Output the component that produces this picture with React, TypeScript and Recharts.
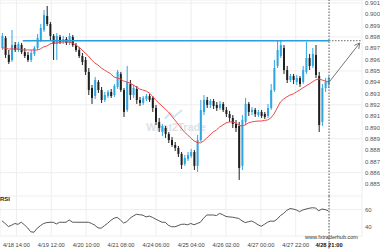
import React from 'react';
import { ComposedChart, Bar, Line, XAxis, YAxis, CartesianGrid, ReferenceLine } from 'recharts';

// 2h candles, 4/18 08:00 -> 4/28 20:00 (weekend skipped)
const openP = [
  0.89703, 0.89791, 0.89641, 0.89597, 0.89729, 0.89685, 0.89729, 0.89667, 0.89641, 0.89597,
  0.8965, 0.89703, 0.89773, 0.89862, 0.89986, 0.89915, 0.89809, 0.89738, 0.898, 0.89756,
  0.89782, 0.89747, 0.898, 0.89729, 0.89685, 0.89632, 0.89597, 0.89491, 0.89349, 0.89278,
  0.89402, 0.89331, 0.89243, 0.89278, 0.89314, 0.89287, 0.89358, 0.89473, 0.89331, 0.89155,
  0.89384, 0.89287, 0.8934, 0.89243, 0.89216, 0.89252, 0.89278, 0.89261, 0.89172, 0.89049,
  0.8896, 0.88995, 0.88942, 0.88889, 0.88845, 0.88819, 0.88766, 0.88677, 0.88721, 0.88748,
  0.88783, 0.8866, 0.88889, 0.89137, 0.89243, 0.89199, 0.89234, 0.89199, 0.89172, 0.89208,
  0.89155, 0.89119, 0.89084, 0.89031, 0.89013, 0.8866, 0.89049, 0.89208, 0.89137, 0.89155,
  0.8911, 0.89137, 0.89119, 0.89102, 0.89172, 0.89331, 0.89544, 0.89632, 0.89703, 0.89508,
  0.8942, 0.89455, 0.89402, 0.89437, 0.89402, 0.89491, 0.89614, 0.89544, 0.89641, 0.89455,
  0.89049, 0.89349, 0.89384,
];
const highP = [
  0.89835, 0.89809, 0.89685, 0.89862, 0.89756, 0.89756, 0.89747, 0.89703, 0.89667, 0.89685,
  0.8972, 0.89826, 0.89915, 0.90039, 0.90074, 0.89933, 0.89826, 0.89835, 0.89818, 0.89809,
  0.898, 0.89835, 0.89818, 0.89747, 0.89712, 0.89658, 0.89623, 0.89526, 0.89376, 0.89446,
  0.8942, 0.89358, 0.89314, 0.89331, 0.8934, 0.89384, 0.89508, 0.89491, 0.89349, 0.89544,
  0.8942, 0.89376, 0.89367, 0.8927, 0.89278, 0.89296, 0.89296, 0.89278, 0.89199, 0.89084,
  0.89031, 0.89013, 0.8896, 0.88916, 0.88872, 0.88836, 0.88783, 0.88757, 0.88783, 0.8881,
  0.88801, 0.88934, 0.89243, 0.89287, 0.8927, 0.89252, 0.89252, 0.89225, 0.89234, 0.89225,
  0.89181, 0.89146, 0.8911, 0.89066, 0.89049, 0.8911, 0.89261, 0.89225, 0.89181, 0.89172,
  0.89155, 0.89155, 0.89137, 0.89208, 0.89384, 0.89597, 0.89765, 0.89765, 0.89729, 0.89544,
  0.89473, 0.89473, 0.89464, 0.89455, 0.89544, 0.89756, 0.8965, 0.89703, 0.89729, 0.89491,
  0.89384, 0.89437, 0.89455,
];
const lowP = [
  0.89685, 0.89614, 0.89561, 0.89579, 0.89667, 0.89667, 0.8965, 0.89614, 0.89579, 0.89579,
  0.89632, 0.89685, 0.89756, 0.89844, 0.89897, 0.89773, 0.89597, 0.89597, 0.89738, 0.89738,
  0.89729, 0.89729, 0.89712, 0.89667, 0.89614, 0.89552, 0.89464, 0.89287, 0.89208, 0.89252,
  0.89305, 0.89216, 0.89225, 0.89261, 0.89261, 0.8927, 0.8934, 0.89314, 0.89093, 0.89137,
  0.89243, 0.89261, 0.89208, 0.8919, 0.89199, 0.89234, 0.89225, 0.89137, 0.89022, 0.8896,
  0.88925, 0.88907, 0.88863, 0.88828, 0.88792, 0.88739, 0.88633, 0.8866, 0.88704, 0.8873,
  0.88624, 0.88607, 0.88872, 0.8911, 0.89172, 0.89172, 0.89163, 0.89146, 0.89155, 0.89137,
  0.89093, 0.89049, 0.88995, 0.8896, 0.88536, 0.88624, 0.89022, 0.89102, 0.8911, 0.89093,
  0.89093, 0.89084, 0.89075, 0.89084, 0.89155, 0.89314, 0.89526, 0.89614, 0.89473, 0.89393,
  0.89402, 0.89384, 0.89376, 0.89358, 0.89384, 0.89473, 0.89508, 0.89526, 0.89437, 0.8896,
  0.89013, 0.89314, 0.89349,
];
const closeP = [
  0.89809, 0.89641, 0.89579, 0.89729, 0.89685, 0.89738, 0.89667, 0.89632, 0.89597, 0.89658,
  0.89703, 0.89791, 0.89879, 0.89994, 0.89915, 0.89809, 0.89738, 0.89809, 0.89756, 0.89782,
  0.89747, 0.89809, 0.89729, 0.89685, 0.89632, 0.89579, 0.89491, 0.89331, 0.89261, 0.8942,
  0.89331, 0.89243, 0.89287, 0.89314, 0.89278, 0.89367, 0.89491, 0.89331, 0.89137, 0.89402,
  0.89287, 0.89349, 0.89243, 0.89216, 0.89261, 0.89278, 0.89243, 0.89172, 0.89049, 0.88995,
  0.89013, 0.88942, 0.88889, 0.88845, 0.88819, 0.88766, 0.88668, 0.8873, 0.88757, 0.88783,
  0.8866, 0.88889, 0.89155, 0.89243, 0.89199, 0.89234, 0.8919, 0.89172, 0.89208, 0.89155,
  0.89119, 0.89084, 0.89031, 0.88995, 0.88642, 0.89066, 0.89208, 0.89137, 0.89155, 0.89119,
  0.89137, 0.89102, 0.89093, 0.89172, 0.89331, 0.89526, 0.89685, 0.89729, 0.89508, 0.8942,
  0.89455, 0.8942, 0.89437, 0.89384, 0.89508, 0.89614, 0.89544, 0.8965, 0.89464, 0.89022,
  0.89349, 0.89402, 0.89437,
];
const maP = [
  0.89703, 0.89703, 0.89694, 0.89694, 0.89694, 0.89694, 0.89689, 0.89685, 0.89685, 0.89685,
  0.89685, 0.89685, 0.89694, 0.89712, 0.8972, 0.89738, 0.89747, 0.89747, 0.89751, 0.89756,
  0.89756, 0.89756, 0.89747, 0.89729, 0.89712, 0.89685, 0.89658, 0.89632, 0.89597, 0.8957,
  0.89552, 0.89526, 0.89508, 0.89491, 0.89473, 0.89446, 0.89437, 0.89429, 0.89411, 0.89402,
  0.89393, 0.89376, 0.89358, 0.8934, 0.89331, 0.89323, 0.89305, 0.89278, 0.89243, 0.89216,
  0.8919, 0.89163, 0.89137, 0.89102, 0.89066, 0.89031, 0.88995, 0.8896, 0.88934, 0.88907,
  0.88881, 0.88867, 0.88863, 0.88881, 0.88907, 0.88934, 0.8896, 0.88978, 0.89004, 0.89022,
  0.8904, 0.89049, 0.89049, 0.8904, 0.89022, 0.89013, 0.89022, 0.8904, 0.89049, 0.89053,
  0.89057, 0.89057, 0.89062, 0.89066, 0.89084, 0.89119, 0.89172, 0.89225, 0.89252, 0.8927,
  0.89287, 0.89296, 0.89314, 0.89331, 0.89349, 0.89367, 0.89384, 0.89402, 0.8942, 0.89429,
  0.8942, 0.89411, 0.89402,
];
const rsiV = [
  47, 44, 40.5, 42, 44, 43, 45.5, 42.5, 39, 34.5,
  34, 38.5, 41.5, 44, 45, 45.4, 45.4, 43.5, 45.4, 45.4,
  45.4, 48, 45.5, 45.4, 45.4, 45.4, 45.4, 45.4, 44, 42,
  39, 38.6, 41.5, 44.2, 47.5, 50, 51, 48, 44.5, 46,
  50, 52.5, 54.5, 54, 53.5, 51.5, 52.5, 51, 49, 47.2,
  45.4, 45.4, 42, 40.3, 40.2, 41.5, 43, 43.2, 42.5, 44,
  42.5, 44, 45.4, 50, 53.7, 53.7, 53.7, 53, 55.5, 54,
  52, 51.5, 51.2, 50.5, 49.7, 47, 45, 46, 46.8, 45,
  42.5, 40.8, 43, 45.5, 46.8, 46.5, 49, 53, 55.5, 59,
  61, 60.5, 59.4, 57.5, 59.4, 60.5, 61.4, 62, 61.6, 58.5,
  60.6, 59.8, 58.5,
];

const tickIdx = [4.5, 15.4, 26.3, 37.2, 48.1, 59.1, 70, 80.9, 91.8];
const tickLabels = ['4/18 14:00', '4/19 12:00', '4/20 10:00', '4/21 08:00', '4/24 06:00', '4/25 04:00', '4/26 02:00', '4/27 00:00', '4/27 22:00'];
const nowIdx = 102.2;
const nowLabel = '4/28 21:00';
const levelPrice = 0.89767;
const levelStart = 6.5;
const arrowFrom = { i: 102, p: 0.89393 };
const arrowTo = { i: 111.8, p: 0.89747 };
const priceTicks = [0.885, 0.886, 0.887, 0.888, 0.889, 0.89, 0.891, 0.892, 0.893, 0.894, 0.895, 0.896, 0.897, 0.898, 0.899, 0.9, 0.901];
const rsiTicks = [40, 60];

const xDomain = [-0.625, 112.5];

const rows = openP.map((o, i) => ({
  i,
  o,
  h: highP[i],
  l: lowP[i],
  c: closeP[i],
  ma: maP[i],
  rsi: rsiV[i],
}));

const UP = '#2ea6e4';
const DOWN = '#1f1f1f';

function Candle(props: any) {
  const { x, y, width, height, payload } = props;
  if (!payload) return null;
  const { o, h, l, c } = payload;
  const color = c >= o ? UP : DOWN;
  const k = h - l === 0 ? 0 : height / (h - l);
  const top = y + (h - Math.max(o, c)) * k;
  const bh = Math.max(1, Math.abs(o - c) * k);
  const cx = x + width / 2;
  return (
    <g>
      <line x1={cx} x2={cx} y1={y} y2={y + height} stroke={color} strokeWidth={1} />
      <rect x={x} y={top} width={width} height={bh} fill={color} />
    </g>
  );
}

function Arrow(props: any) {
  const { x1, y1, x2, y2 } = props;
  const a = Math.atan2(y2 - y1, x2 - x1);
  const len = 6;
  const ax = x2 - len * Math.cos(a - 0.5);
  const ay = y2 - len * Math.sin(a - 0.5);
  const bx = x2 - len * Math.cos(a + 0.5);
  const by = y2 - len * Math.sin(a + 0.5);
  return (
    <g>
      <line x1={x1} y1={y1} x2={x2} y2={y2} stroke="#777" strokeWidth={1} />
      <polyline points={`${ax},${ay} ${x2},${y2} ${bx},${by}`} fill="none" stroke="#777" strokeWidth={1} />
    </g>
  );
}

function TimeTick(props: any) {
  const { x, y, payload } = props;
  const k = tickIdx.indexOf(payload.value);
  const isNow = k < 0;
  return (
    <text x={x} y={y} dy={4} textAnchor="middle" fontSize={5.7} fill={isNow ? '#111' : '#444'} fontWeight={isNow ? 'bold' : 'normal'}>
      {isNow ? nowLabel : tickLabels[k]}
    </text>
  );
}

export default function App() {
  return (
    <div style={{ position: 'absolute', left: 0, top: 0, width: 380, height: 250, background: '#fff', fontFamily: '"Liberation Sans", Arial, sans-serif' }}>
      <ComposedChart width={380} height={196} data={rows} margin={{ top: 0, right: 0, bottom: 0, left: 0 }}>
        <CartesianGrid stroke="#eeeeee" />
        <XAxis type="number" dataKey="i" domain={xDomain} ticks={tickIdx} hide allowDataOverflow />
        <YAxis
          orientation="right"
          width={18}
          domain={[0.88394, 0.90127]}
          ticks={priceTicks}
          tickFormatter={(v: number) => v.toFixed(3)}
          axisLine={false}
          tickLine={false}
          tickSize={0}
          tickMargin={3}
          tick={{ fontSize: 6, fill: '#555' }}
          allowDataOverflow
        />
        <polyline points="165,119 170,113 174,117 182,110" fill="none" stroke="#d3e6f3" strokeWidth={2} />
        <text x={176} y={130.5} textAnchor="middle" fontSize={10.5} fontWeight="bold" fill="#dde2e6">What2Trade</text>
        <Bar dataKey={(d: any) => [d.l, d.h]} shape={Candle} barSize={2} isAnimationActive={false} />
        <Line dataKey="ma" stroke="#f04848" strokeWidth={1} dot={false} activeDot={false} isAnimationActive={false} />
        <ReferenceLine segment={[{ x: levelStart, y: levelPrice }, { x: nowIdx, y: levelPrice }]} stroke="#2a9ddb" strokeWidth={1.5} />
        <ReferenceLine segment={[{ x: nowIdx, y: levelPrice }, { x: xDomain[1], y: levelPrice }]} stroke="#666" strokeDasharray="1.5 1.5" />
        <ReferenceLine x={nowIdx} stroke="#555" strokeDasharray="1.5 1.5" />
        <ReferenceLine segment={[{ x: arrowFrom.i, y: arrowFrom.p }, { x: arrowTo.i, y: arrowTo.p }]} shape={Arrow} />
      </ComposedChart>
      <ComposedChart width={380} height={54} data={rows} margin={{ top: 0, right: 0, bottom: 0, left: 0 }}>
        <CartesianGrid stroke="#eeeeee" />
        <XAxis
          type="number"
          dataKey="i"
          domain={xDomain}
          ticks={[...tickIdx, nowIdx]}
          interval={0}
          height={14}
          axisLine={false}
          tickLine={false}
          tickSize={0}
          tickMargin={6.5}
          tick={<TimeTick />}
          allowDataOverflow
        />
        <YAxis
          orientation="right"
          width={18}
          domain={[29.7, 75.4]}
          ticks={rsiTicks}
          axisLine={false}
          tickLine={false}
          tickSize={0}
          tickMargin={3}
          tick={{ fontSize: 6, fill: '#555' }}
          allowDataOverflow
        />
        <Line dataKey="rsi" stroke="#444" strokeWidth={0.9} dot={false} activeDot={false} isAnimationActive={false} />
        <ReferenceLine segment={[{ x: nowIdx, y: 75.4 }, { x: nowIdx, y: 14 }]} ifOverflow="visible" stroke="#555" strokeDasharray="1.5 1.5" />
        <text x={0} y={5} fontSize={6} fontWeight="bold" fill="#222">RSI</text>
        <text x={305} y={43} fontSize={5.5} fill="#333">www.fxtraderhub.com</text>
      </ComposedChart>
    </div>
  );
}
